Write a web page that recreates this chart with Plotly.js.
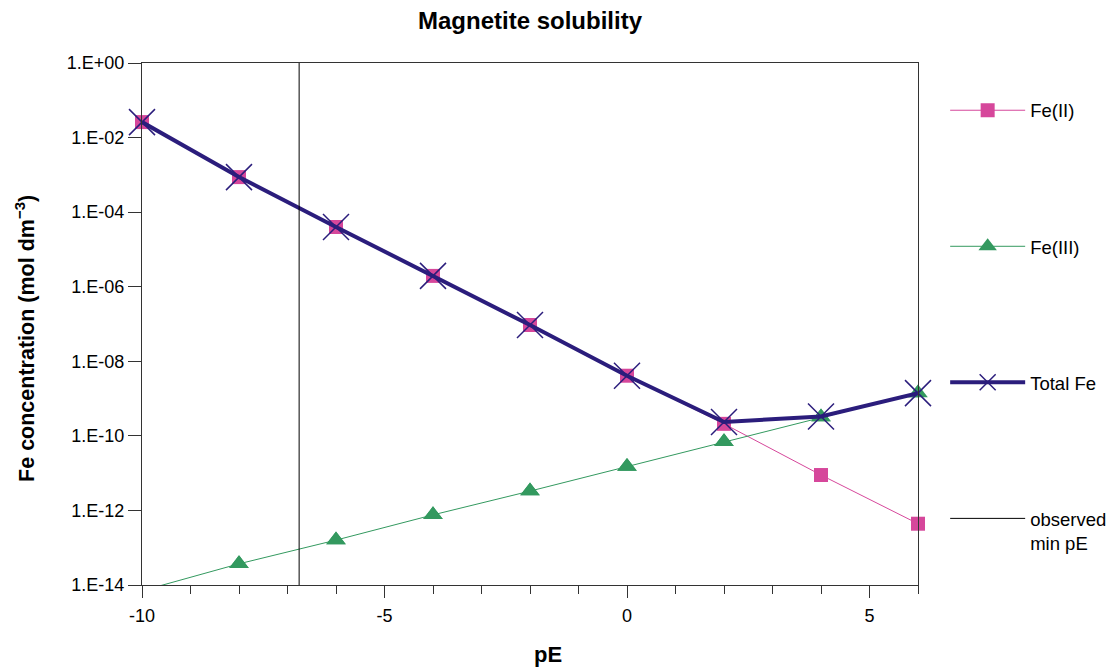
<!DOCTYPE html>
<html>
<head>
<meta charset="utf-8">
<script src="https://cdn.plot.ly/plotly-3.0.1.min.js"></script>
<style>html,body{margin:0;padding:0;background:#fff;}#chart{width:1113px;height:670px;}</style>
</head>
<body>
<div id="chart"></div>
<script>
// pE values
const pE = [-10, -8, -6, -4, -2, 0, 2, 4, 6];
// Fe(II) concentration (mol dm-3)
const feII = [2.6e-2, 8.7e-4, 4.0e-5, 1.95e-6, 9.4e-8, 4.1e-9, 2.1e-10, 8.9e-12, 4.4e-13];
// Fe(III) concentration (mol dm-3)
const feIII = [7.0e-15, 3.7e-14, 1.6e-13, 7.6e-13, 3.3e-12, 1.5e-11, 6.9e-11, 3.2e-10, 1.4e-9];
// Total Fe concentration (mol dm-3)
const totalFe = [2.6e-2, 8.7e-4, 4.0e-5, 1.95e-6, 9.4e-8, 4.1e-9, 2.35e-10, 3.3e-10, 1.4e-9];
// observed minimum pE (vertical line)
const obsPE = [-6.76, -6.76];
const obsY = [1e-14, 1];
// tick values and labels
const xTickVals = [-10, -5, 0, 5];
const xTickText = ['-10', '-5', '0', '5'];
const yTickVals = [1, 1e-2, 1e-4, 1e-6, 1e-8, 1e-10, 1e-12, 1e-14];
const yTickText = ['1.E+00', '1.E-02', '1.E-04', '1.E-06', '1.E-08', '1.E-10', '1.E-12', '1.E-14'];

const FONT = 'Liberation Sans, Arial, Helvetica, sans-serif';
const pink = '#D6479B', green = '#33995F', navy = '#2B1D7C';
const Y_MIN = 1e-14;

// Fe(III) points inside the visible y range (markers drawn unclipped, like the original)
const feIIIvisX = pE.filter((v, i) => feIII[i] >= Y_MIN);
const feIIIvisY = feIII.filter(v => v >= Y_MIN);

const traces = [
  {x: pE, y: feII, name: 'Fe(II)', mode: 'lines+markers', legendgroup: 'a', legendrank: 1, cliponaxis: false,
   line: {color: pink, width: 1}, marker: {symbol: 'square', size: 14, color: pink}},
  {x: pE, y: feIII, name: 'Fe(III)', mode: 'lines+markers', legendgroup: 'b', legendrank: 2,
   line: {color: green, width: 1}, marker: {symbol: 'triangle-up', size: 17, color: green}},
  {x: feIIIvisX, y: feIIIvisY, name: 'Fe(III)', mode: 'markers', legendgroup: 'b', showlegend: false, cliponaxis: false,
   marker: {symbol: 'triangle-up', size: 17, color: green}},
  {x: pE, y: totalFe, name: 'Total Fe', mode: 'lines+markers', legendgroup: 'c', legendrank: 3, cliponaxis: false,
   line: {color: navy, width: 4}, marker: {symbol: 'x-thin', size: 26, color: navy, line: {color: navy, width: 1.5}}},
  {x: obsPE, y: obsY, name: 'observed<br>min pE', mode: 'lines', legendgroup: 'd', legendrank: 4,
   line: {color: '#000', width: 1}}
];

const layout = {
  width: 1113, height: 670,
  margin: {l: 142, r: 195, t: 63, b: 85, autoexpand: false},
  paper_bgcolor: '#fff', plot_bgcolor: '#fff',
  font: {family: FONT, color: '#000', size: 18},
  title: {text: '<b>Magnetite solubility</b>', x: 0.5, xref: 'paper', y: 0.97, yref: 'container', yanchor: 'middle',
          font: {family: FONT, size: 24, color: '#000'}},
  xaxis: {
    range: [-10, 6], tickmode: 'array', tickvals: xTickVals, ticktext: xTickText,
    showgrid: false, zeroline: false,
    showline: true, mirror: true, linecolor: '#333', linewidth: 1,
    ticks: 'outside', ticklen: 12, tickcolor: '#333', tickwidth: 1, ticklabelstandoff: 2,
    minor: {dtick: 1, tick0: -10, ticks: 'outside', ticklen: 8, tickcolor: '#333', showgrid: false},
    tickfont: {family: FONT, size: 18}
  },
  yaxis: {
    type: 'log', range: [-14, 0], tickvals: yTickVals, ticktext: yTickText,
    showgrid: false, zeroline: false,
    showline: true, mirror: true, linecolor: '#333', linewidth: 1,
    ticks: 'outside', ticklen: 13, tickcolor: '#333', tickwidth: 1,
    tickfont: {family: FONT, size: 18}
  },
  annotations: [
    {text: '<b>Fe concentration (mol dm<sup>−3</sup>)</b>', textangle: -90, showarrow: false,
     xref: 'paper', yref: 'paper', x: -0.151, y: 0.473, xanchor: 'center', yanchor: 'middle',
     font: {family: FONT, size: 21.5, color: '#000'}},
    {text: '<b>pE</b>', showarrow: false, xref: 'paper', yref: 'paper', x: 0.523, y: -0.134,
     xanchor: 'center', yanchor: 'middle', font: {family: FONT, size: 22, color: '#000'}}
  ],
  showlegend: true,
  legend: {
    x: 1.035, xanchor: 'left', y: 0.945, yanchor: 'top',
    traceorder: 'grouped', tracegroupgap: 109, itemwidth: 75, valign: 'top',
    font: {family: FONT, size: 18.5, color: '#000'}, bgcolor: 'rgba(0,0,0,0)'
  }
};

Plotly.newPlot('chart', traces, layout, {displayModeBar: false, staticPlot: true});
</script>
</body>
</html>
